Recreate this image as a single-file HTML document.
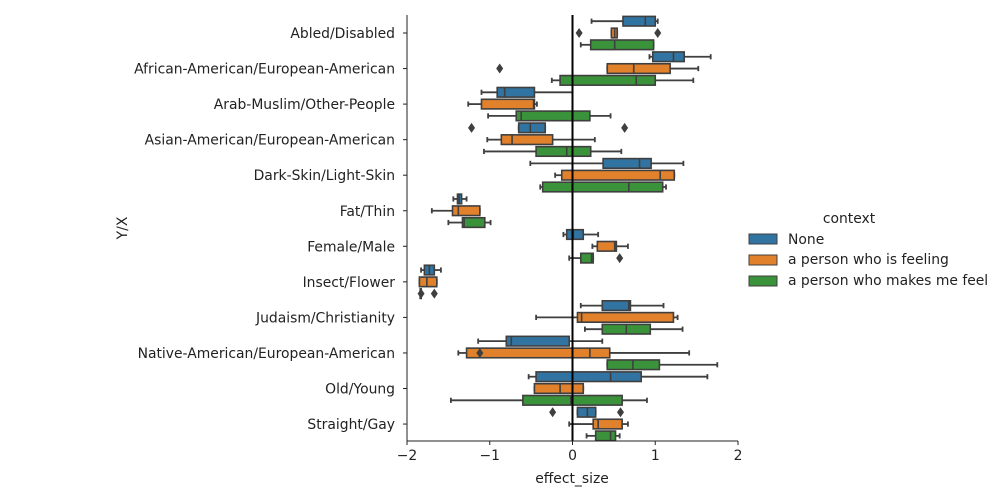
<!DOCTYPE html>
<html><head><meta charset="utf-8"><style>
body{margin:0;background:#fff;}
svg{display:block;font-family:"DejaVu Sans","Liberation Sans",sans-serif;}
</style></head><body>
<div style="position:relative;width:999px;height:500px">
<svg id="chart" width="999" height="500" style="position:absolute;left:0;top:0"></svg>
<svg width="999" height="500" style="position:absolute;left:0;top:0;pointer-events:none">
<text x="572" y="483" text-anchor="middle" font-size="13.9" fill="#222">effect_size</text>
<text x="0" y="0" transform="translate(127,228) rotate(-90)" text-anchor="middle" font-size="13.9" fill="#222">Y/X</text>
<g font-size="13.9" fill="#222">
<text x="849" y="223" text-anchor="middle">context</text>
<g><rect x="749" y="234" width="28" height="10" fill="#3274a1" stroke="#3f3f3f" stroke-width="1"/><text x="788" y="244">None</text></g>
<g><rect x="749" y="255" width="28" height="10" fill="#e1812c" stroke="#3f3f3f" stroke-width="1"/><text x="788" y="264">a person who is feeling</text></g>
<g><rect x="749" y="276" width="28" height="10" fill="#3a923a" stroke="#3f3f3f" stroke-width="1"/><text x="788" y="285">a person who makes me feel</text></g>
</g>
</svg>
</div>
<script>
const categories=["Abled/Disabled","African-American/European-American","Arab-Muslim/Other-People","Asian-American/European-American","Dark-Skin/Light-Skin","Fat/Thin","Female/Male","Insect/Flower","Judaism/Christianity","Native-American/European-American","Old/Young","Straight/Gay"];
const seriesNames=["None","a person who is feeling","a person who makes me feel"];
const xTicks=[-2,-1,0,1,2];
// [whiskerLow, q1, median, q3, whiskerHigh]
const statsNone=[[0.23,0.61,0.88,1.00,1.03],[0.93,0.97,1.22,1.35,1.67],[-1.10,-0.91,-0.82,-0.46,0.0],[-0.65,-0.65,-0.51,-0.33,-0.33],[-0.51,0.37,0.81,0.95,1.34],[-1.44,-1.39,-1.37,-1.34,-1.28],[-0.11,-0.07,0.01,0.13,0.31],[-1.83,-1.79,-1.73,-1.67,-1.59],[0.10,0.36,0.68,0.70,1.10],[-1.14,-0.80,-0.74,-0.04,0.36],[-0.53,-0.44,0.46,0.83,1.63],[0.06,0.06,0.18,0.28,0.28]];
const statsFeeling=[[0.47,0.47,0.51,0.54,0.54],[0.42,0.42,0.74,1.18,1.52],[-1.26,-1.10,-0.47,-0.46,-0.43],[-1.03,-0.86,-0.73,-0.24,0.27],[-0.21,-0.13,1.06,1.23,1.23],[-1.70,-1.45,-1.38,-1.12,-1.12],[0.24,0.30,0.51,0.53,0.67],[-1.85,-1.85,-1.76,-1.64,-1.64],[-0.44,0.06,0.11,1.22,1.27],[-1.38,-1.28,0.21,0.45,1.41],[-0.46,-0.46,-0.15,0.13,0.13],[-0.04,0.25,0.31,0.60,0.67]];
const statsMakes=[[0.10,0.22,0.51,0.98,0.98],[-0.25,-0.15,0.77,1.00,1.46],[-1.02,-0.68,-0.62,0.21,0.46],[-1.07,-0.44,-0.07,0.22,0.59],[-0.39,-0.36,0.68,1.09,1.13],[-1.50,-1.33,-1.31,-1.06,-0.99],[-0.04,0.10,0.23,0.25,0.25],[-1.84,-1.84,-1.84,-1.84,-1.84],[0.15,0.36,0.65,0.94,1.33],[0.42,0.42,0.73,1.05,1.75],[-1.47,-0.60,-0.02,0.60,0.90],[0.17,0.28,0.46,0.52,0.57]];
const outNone=[[],[],[],[-1.22,0.63],[],[],[],[],[],[],[],[-0.24,0.58]];
const outFeeling=[[0.08,1.03],[-0.88],[],[],[],[],[],[],[],[-1.12],[],[]];
const outMakes=[[],[],[],[],[],[],[0.57],[-1.83,-1.67],[],[],[],[]];
const colors=["#3274a1","#e1812c","#3a923a"];

const svg=document.getElementById('chart');
const NS="http://www.w3.org/2000/svg";
function mk(tag,attrs,parent){const e=document.createElementNS(NS,tag);for(const k in attrs)e.setAttribute(k,attrs[k]);(parent||svg).appendChild(e);return e;}
const X0=407,X1=738,Y0=15,Y1=441;
function xs(v){return X0+(v+2)/4*(X1-X0);}
function ys(i){return 33+i*35.55;}
const offsets=[-11.8,0,11.8];
const BH=9.6, edge="#3f3f3f";
const allStats=[statsNone,statsFeeling,statsMakes];
const allOut=[outNone,outFeeling,outMakes];

categories.forEach((c,i)=>{
  for(let s=0;s<3;s++){
    const d=allStats[s][i];const yc=ys(i)+offsets[s];
    const g=mk('g',{});
    
    
    mk('line',{x1:xs(d[0]),x2:xs(d[1]),y1:yc,y2:yc,stroke:edge,'stroke-width':1.8},g);
    mk('line',{x1:xs(d[3]),x2:xs(d[4]),y1:yc,y2:yc,stroke:edge,'stroke-width':1.8},g);
    mk('line',{x1:xs(d[0]),x2:xs(d[0]),y1:yc-2.6,y2:yc+2.6,stroke:edge,'stroke-width':1.8},g);
    mk('line',{x1:xs(d[4]),x2:xs(d[4]),y1:yc-2.6,y2:yc+2.6,stroke:edge,'stroke-width':1.8},g);
    mk('rect',{x:xs(d[1]),y:yc-BH/2,width:Math.max(xs(d[3])-xs(d[1]),1),height:BH,fill:colors[s],stroke:edge,'stroke-width':1.6},g);
    mk('line',{x1:xs(d[2]),x2:xs(d[2]),y1:yc-BH/2,y2:yc+BH/2,stroke:edge,'stroke-width':1.6},g);
    allOut[s][i].forEach(o=>{
      const p=mk('path',{d:`M${xs(o)} ${yc-5}L${xs(o)+3.5} ${yc}L${xs(o)} ${yc+5}L${xs(o)-3.5} ${yc}Z`,fill:edge},g);
      
      
    });
  }
  const t=mk('text',{x:395,y:ys(i)+5,'text-anchor':'end','font-size':13.9,fill:'#222'});
  t.textContent=c;
  
  
  mk('line',{x1:X0-4,x2:X0,y1:ys(i),y2:ys(i),stroke:'#222','stroke-width':1});
});
const zl=mk('line',{x1:xs(0),x2:xs(0),y1:Y0,y2:Y1,stroke:'#000','stroke-width':2});


const ax=mk('line',{x1:X0,x2:X0,y1:Y0,y2:Y1,stroke:'#222','stroke-width':1});


const bx=mk('line',{x1:X0,x2:X1,y1:Y1,y2:Y1,stroke:'#222','stroke-width':1});


xTicks.forEach(v=>{
  mk('line',{x1:xs(v),x2:xs(v),y1:Y1,y2:Y1+4,stroke:'#222','stroke-width':1});
  const t=mk('text',{x:xs(v),y:Y1+19,'text-anchor':'middle','font-size':13.9,fill:'#222'});
  t.textContent=(v<0?'\u2212'+(-v):String(v));
  
  
});
</script>
</body></html>
